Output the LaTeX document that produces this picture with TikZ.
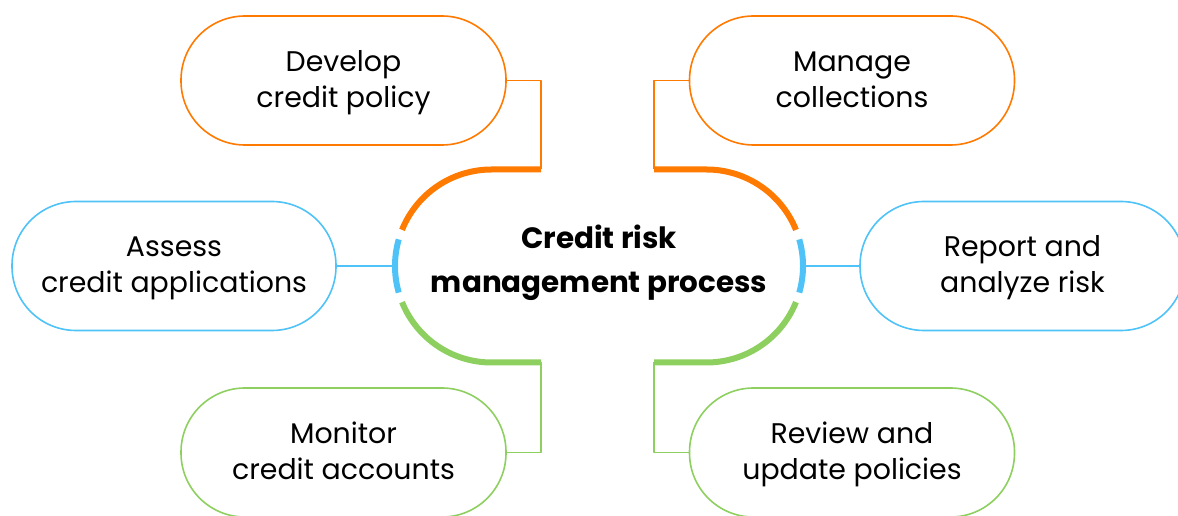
\documentclass[tikz,border=0pt]{standalone}
\usepackage{fontspec}
\setmainfont{Poppins}

\definecolor{riskorange}{RGB}{255,122,0}
\definecolor{riskblue}{RGB}{79,195,247}
\definecolor{riskgreen}{RGB}{141,208,96}

\begin{document}
\begin{tikzpicture}[line join=bevel,
  stepbox/.style={draw,line width=1.6bp,fill=white,rounded corners=64bp,minimum width=325bp,minimum height=129bp,inner sep=0pt,align=center,font=\fontsize{28.5}{36}\selectfont,execute at begin node={\rule{0pt}{64bp}},execute at end node=\strut},
  link/.style={line width=1.6bp},
  rim/.style={line width=6bp},
]
%%
\useasboundingbox (0bp,0bp) rectangle (1178bp,516bp);
%
\node (node_develop) at (343.5bp,435.5bp) [stepbox,draw=riskorange] {Develop\\credit policy};
  \node (node_manage) at (852.0bp,435.5bp) [stepbox,draw=riskorange] {Manage\\collections};
  \node (node_assess) at (174.0bp,250.0bp) [stepbox,draw=riskblue,minimum width=324bp] {Assess\\credit applications};
  \node (node_report) at (1022.5bp,250.0bp) [stepbox,draw=riskblue] {Report and\\analyze risk};
  \node (node_monitor) at (343.5bp,63.5bp) [stepbox,draw=riskgreen] {Monitor\\credit accounts};
  \node (node_review) at (852.0bp,63.5bp) [stepbox,draw=riskgreen] {Review and\\update policies};
%
\node (node_center) at (599.0bp,253.0bp) [font=\bfseries\fontsize{29.5}{44}\selectfont,align=center] {Credit risk\\management process};
  \coordinate (c_left) at (491.5bp,250.0bp);
  \coordinate (c_right) at (706.5bp,250.0bp);
  \coordinate (c_top_l) at (541.0bp,346.5bp);
  \coordinate (c_top_r) at (654.0bp,346.5bp);
  \coordinate (c_bot_l) at (541.0bp,153.5bp);
  \coordinate (c_bot_r) at (654.0bp,153.5bp);
  \coordinate (c_mid_l) at (395.0bp,250.0bp);
  \coordinate (c_mid_r) at (803.0bp,250.0bp);
%
\draw [riskorange,link] (node_develop.east) -| (c_top_l);
  \draw [riskorange,link] (node_manage.west) -| (c_top_r);
  \draw [riskblue,link] (node_assess.east) -- (c_mid_l);
  \draw [riskblue,link] (node_report.west) -- (c_mid_r);
  \draw [riskgreen,link] (node_monitor.east) -| (c_bot_l);
  \draw [riskgreen,link] (node_review.west) -| (c_bot_r);
%
\draw [riskorange,rim] (c_top_l) -- (491.5bp,346.5bp) arc [start angle=90,end angle=158,radius=96.5bp];
  \draw [riskorange,rim] (c_top_r) -- (706.5bp,346.5bp) arc [start angle=90,end angle=22,radius=96.5bp];
  \draw [riskblue,rim] ([shift={(164:96.5bp)}]c_left) arc [start angle=164,end angle=196,radius=96.5bp];
  \draw [riskblue,rim] ([shift={(-16:96.5bp)}]c_right) arc [start angle=-16,end angle=16,radius=96.5bp];
  \draw [riskgreen,rim] (c_bot_l) -- (491.5bp,153.5bp) arc [start angle=270,end angle=202,radius=96.5bp];
  \draw [riskgreen,rim] (c_bot_r) -- (706.5bp,153.5bp) arc [start angle=270,end angle=338,radius=96.5bp];
%
\end{tikzpicture}
\end{document}
